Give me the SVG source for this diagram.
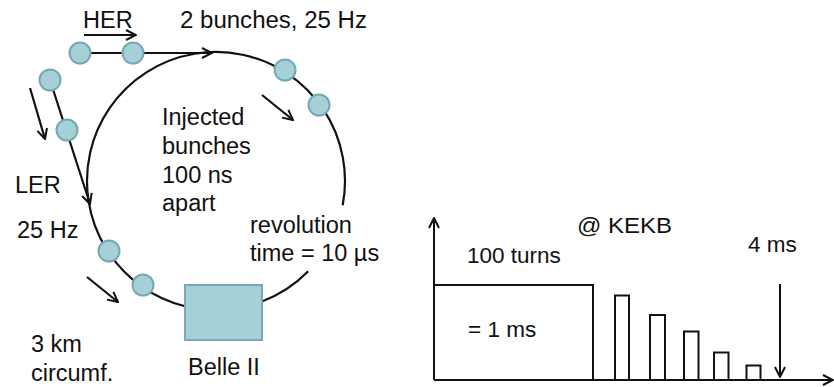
<svg xmlns="http://www.w3.org/2000/svg" width="834" height="387" viewBox="0 0 834 387">
<style>
text{font-family:"Liberation Sans",Arial,sans-serif;font-size:23.5px;fill:#111}
.ch{font-size:22.5px}
.ln{fill:none;stroke:#111;stroke-width:2.2}
.bunch{fill:#a6d0d8;stroke:#74a9b3;stroke-width:2}
.ax{fill:none;stroke:#111;stroke-width:2}
</style>
<defs>
<marker id="ah" viewBox="0 0 12 12" refX="11" refY="6" markerWidth="12" markerHeight="12" markerUnits="userSpaceOnUse" orient="auto">
<path d="M1,1 L11,6 L1,11" fill="none" stroke="#111" stroke-width="2"/>
</marker>
</defs>
<rect width="834" height="387" fill="#fff"/>
<g id="connectors">
<path class="ln" d="M185,306.2 A129,129 0 1 1 342.7,205.2"/>
<path class="ln" d="M308.2,271.3 A129,129 0 0 1 262,301.5"/>
<line class="ln" x1="80" y1="53" x2="212" y2="53" marker-end="url(#ah)"/>
<line class="ln" x1="50" y1="80" x2="90" y2="204" marker-end="url(#ah)"/>
<line class="ln" x1="84" y1="35" x2="136" y2="35" marker-end="url(#ah)"/>
<line class="ln" x1="30" y1="88" x2="45" y2="139" marker-end="url(#ah)"/>
<line class="ln" x1="262" y1="95" x2="293" y2="120" marker-end="url(#ah)"/>
<line class="ln" x1="87" y1="277" x2="118" y2="302" marker-end="url(#ah)"/>
</g>
<g id="bunches">
<circle class="bunch" cx="80" cy="53" r="10.5"/>
<circle class="bunch" cx="133" cy="53" r="10.5"/>
<circle class="bunch" cx="50" cy="80" r="10.5"/>
<circle class="bunch" cx="67" cy="130" r="10.5"/>
<circle class="bunch" cx="285" cy="70" r="10.5"/>
<circle class="bunch" cx="319" cy="105" r="10.5"/>
<circle class="bunch" cx="109" cy="251" r="10.5"/>
<circle class="bunch" cx="143" cy="285" r="10.5"/>
</g>
<g id="belle">
<rect x="185" y="285" width="77" height="55" fill="#a6d0d8" stroke="#7aaab2" stroke-width="2"/>
<text x="188" y="375">Belle II</text>
</g>
<g id="labels">
<text x="83" y="28">HER</text>
<text x="180" y="28" textLength="187" lengthAdjust="spacingAndGlyphs">2 bunches, 25 Hz</text>
<text x="162" y="125">Injected</text>
<text x="162" y="154">bunches</text>
<text x="162" y="183">100 ns</text>
<text x="162" y="211">apart</text>
<text x="15" y="193">LER</text>
<text x="17" y="238">25 Hz</text>
<text x="250" y="233">revolution</text>
<text x="250" y="261">time = 10 µs</text>
<text x="31" y="352">3 km</text>
<text x="31" y="381">circumf.</text>
</g>
<g id="chart">
<line class="ax" x1="434" y1="380" x2="434" y2="218" marker-end="url(#ah)"/>
<line class="ax" x1="434" y1="380" x2="833" y2="380" marker-end="url(#ah)"/>
<polyline class="ax" points="434,285 593,285 593,380"/>
<polyline class="ax" points="615,380 615,295.5 629,295.5 629,380"/>
<polyline class="ax" points="650,380 650,315 665,315 665,380"/>
<polyline class="ax" points="684,380 684,331.5 698.5,331.5 698.5,380"/>
<polyline class="ax" points="714,380 714,352.5 728.5,352.5 728.5,380"/>
<polyline class="ax" points="746.5,380 746.5,365.5 760.5,365.5 760.5,380"/>
<line class="ax" x1="780" y1="284" x2="780" y2="377" marker-end="url(#ah)"/>
<text class="ch" x="577" y="233" textLength="95" lengthAdjust="spacingAndGlyphs">@ KEKB</text>
<text class="ch" x="467" y="263">100 turns</text>
<text class="ch" x="748" y="252">4 ms</text>
<text class="ch" x="468" y="337">= 1 ms</text>
</g>
</svg>
